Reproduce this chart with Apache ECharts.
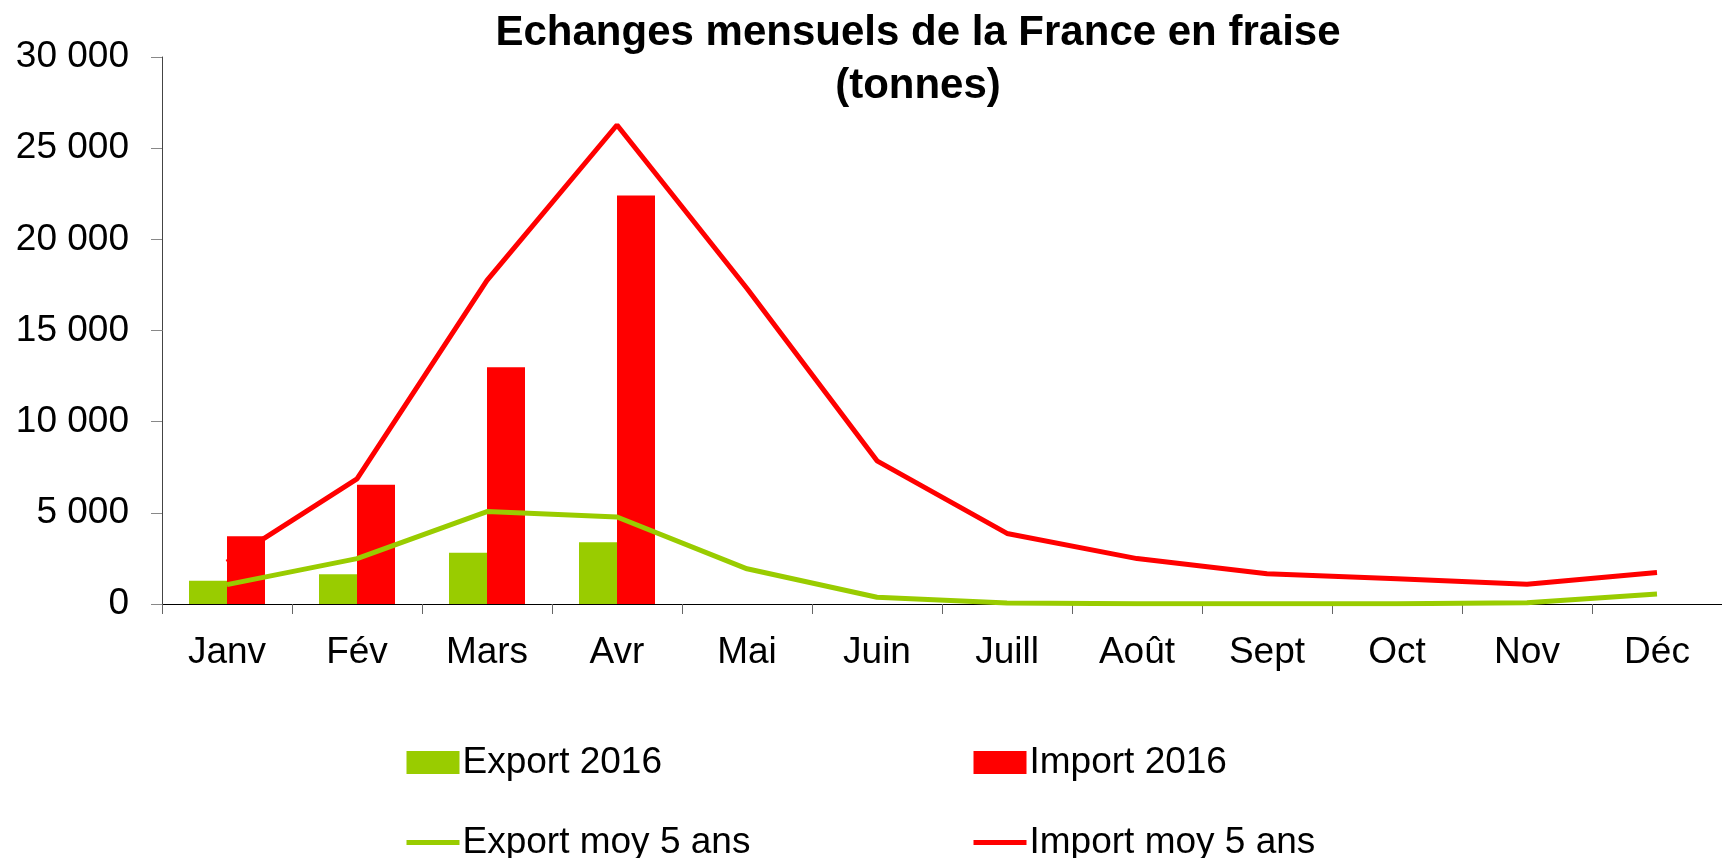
<!DOCTYPE html>
<html>
<head>
<meta charset="utf-8">
<script src="https://cdn.jsdelivr.net/npm/echarts@6/dist/echarts.min.js"></script>
<style>
  html, body { margin: 0; padding: 0; background: #fff; }
  #chart { width: 1722px; height: 858px; }
</style>
</head>
<body>
<div id="chart"></div>
<script>
// mois
const months = ['Janv', 'Fév', 'Mars', 'Avr', 'Mai', 'Juin', 'Juill', 'Août', 'Sept', 'Oct', 'Nov', 'Déc']
// tonnes
const export2016 = [1270, 1630, 2810, 3390, null, null, null, null, null, null, null, null]
const import2016 = [3710, 6540, 12990, 22400, null, null, null, null, null, null, null, null]
const exportMoy = [1060, 2490, 5070, 4770, 1930, 370, 50, 20, 20, 20, 70, 550]
const importMoy = [2300, 6860, 17750, 26270, 17300, 7850, 3870, 2490, 1660, 1380, 1080, 1730]

const GREEN = '#99CC00'
const RED = '#FF0000'
const FONT = '"Liberation Sans", Arial, sans-serif'

const legendText = { fontFamily: FONT, fontSize: 37, color: '#000', lineHeight: 36, padding: [0, 0, 0, -2] }

const chart = echarts.init(document.getElementById('chart'))
const option = {
  backgroundColor: '#fff',
  animation: false,
  textStyle: { fontFamily: FONT },
  title: {
    text: 'Echanges mensuels de la France en fraise\n(tonnes)',
    left: 918,
    textAlign: 'center',
    top: 7,
    padding: 0,
    textStyle: {
      fontFamily: FONT,
      fontSize: 42,
      fontWeight: 'bold',
      color: '#000',
      lineHeight: 53
    }
  },
  legend: [
    {
      data: [
        { name: 'Export 2016', icon: 'rect' },
        { name: 'Export moy 5 ans', itemStyle: { opacity: 0 }, lineStyle: { width: 5 } }
      ],
      orient: 'vertical',
      left: 404,
      top: 744,
      height: 150,
      padding: 0,
      itemWidth: 53,
      itemHeight: 23,
      itemGap: 43,
      textStyle: legendText
    },
    {
      data: [
        { name: 'Import 2016', icon: 'rect' },
        { name: 'Import moy 5 ans', itemStyle: { opacity: 0 }, lineStyle: { width: 5 } }
      ],
      orient: 'vertical',
      left: 971,
      top: 744,
      height: 150,
      padding: 0,
      itemWidth: 53,
      itemHeight: 23,
      itemGap: 43,
      textStyle: legendText
    }
  ],
  grid: {
    left: 162,
    right: -22,
    top: 57,
    bottom: 254,
    containLabel: false
  },
  xAxis: {
    type: 'category',
    data: months,
    boundaryGap: true,
    axisLine: { lineStyle: { color: '#000', width: 1 } },
    axisTick: { show: true, length: 10, lineStyle: { color: '#666' } },
    axisLabel: { fontSize: 37, color: '#000', margin: 30, fontFamily: FONT },
    splitLine: { show: false }
  },
  yAxis: {
    type: 'value',
    min: 0,
    max: 30000,
    interval: 5000,
    axisLine: { show: true, lineStyle: { color: '#444', width: 1 } },
    axisTick: { show: true, length: 11, lineStyle: { color: '#888' } },
    axisLabel: {
      fontSize: 37,
      color: '#000',
      margin: 33,
      fontFamily: FONT,
      formatter: (v) => String(v).replace(/\B(?=(\d{3})+(?!\d))/g, ' ')
    },
    splitLine: { show: false }
  },
  series: [
    {
      name: 'Export 2016',
      type: 'bar',
      data: export2016,
      barWidth: 38,
      barGap: '0%',
      itemStyle: { color: GREEN },
      z: 2
    },
    {
      name: 'Import 2016',
      type: 'bar',
      data: import2016,
      barWidth: 38,
      barGap: '0%',
      itemStyle: { color: RED },
      z: 2
    },
    {
      name: 'Export moy 5 ans',
      type: 'line',
      data: exportMoy,
      symbol: 'none',
      lineStyle: { color: GREEN, width: 5 },
      itemStyle: { color: GREEN },
      z: 3
    },
    {
      name: 'Import moy 5 ans',
      type: 'line',
      data: importMoy,
      symbol: 'none',
      lineStyle: { color: RED, width: 5 },
      itemStyle: { color: RED },
      z: 1
    }
  ]
}
chart.setOption(option)
</script>
</body>
</html>
